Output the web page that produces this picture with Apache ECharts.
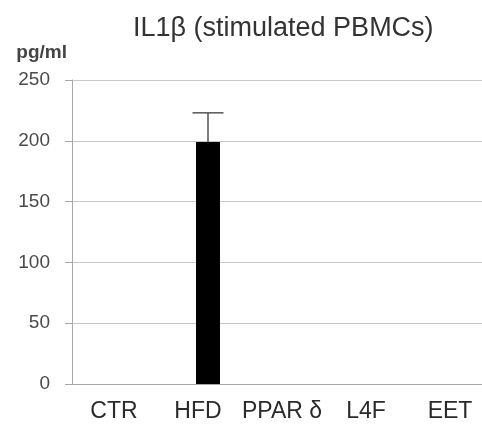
<!DOCTYPE html>
<html>
<head>
<meta charset="utf-8">
<script src="https://cdn.jsdelivr.net/npm/echarts@6/dist/echarts.min.js"></script>
<style>
  html, body { margin: 0; padding: 0; background: #fff; }
  #main { width: 482px; height: 429px; }
</style>
</head>
<body>
<div id="main"></div>
<script>
const categories = ['CTR', 'HFD', 'PPAR \u03b4', 'L4F', 'EET'];
const means = [0, 199, 0, 0, 0];
const errorTops = [0, 223, 0, 0, 0];
const yTicks = [0, 50, 100, 150, 200, 250];

// the bar sits a bit right of its label in the original
const barShift = 10;
const barWidth = 24;
const capWidth = 31;

const chart = echarts.init(document.getElementById('main'), null, { renderer: 'canvas' });

const option = {
  animation: false,
  textStyle: { fontFamily: 'Liberation Sans, Arial, sans-serif' },
  title: {
    text: 'IL1\u03b2 (stimulated PBMCs)',
    left: 128,
    top: 10,
    textStyle: { fontSize: 27, fontWeight: 'normal', color: '#333' }
  },
  grid: { left: 72, right: -10, top: 80, bottom: 45, outerBoundsMode: 'none' },
  xAxis: {
    type: 'category',
    data: categories,
    axisLine: { lineStyle: { color: '#a8a8a8', width: 1 } },
    axisTick: { show: false },
    axisLabel: { fontSize: 23, color: '#2a2a2a', margin: 16, interval: 0 }
  },
  yAxis: {
    type: 'value',
    min: yTicks[0],
    max: yTicks[yTicks.length - 1],
    interval: 50,
    name: 'pg/ml',
    nameLocation: 'end',
    nameGap: 18,
    nameTextStyle: { fontSize: 19, fontWeight: 'bold', color: '#444', align: 'right', padding: [0, 5, 0, 0] },
    axisLine: { show: true, lineStyle: { color: '#a8a8a8', width: 1 } },
    axisTick: { show: true, length: 7, lineStyle: { color: '#a8a8a8' } },
    axisLabel: { fontSize: 19, color: '#4a4a4a', margin: 22 },
    splitLine: { lineStyle: { color: '#c8c8c8', width: 1 } }
  },
  series: [{
    type: 'custom',
    data: means.map((m, i) => [i, m, errorTops[i]]),
    renderItem: function (params, api) {
      const i = api.value(0);
      const m = api.value(1);
      if (!m) return null;
      const base = api.coord([i, 0]);
      const top = api.coord([i, m]);
      const err = api.coord([i, api.value(2)]);
      const cx = base[0] + barShift;
      return {
        type: 'group',
        children: [
          {
            type: 'line',
            shape: { x1: cx, y1: top[1], x2: cx, y2: err[1] },
            style: { stroke: '#555', lineWidth: 1.5 }
          },
          {
            type: 'line',
            shape: { x1: cx - capWidth / 2, y1: err[1], x2: cx + capWidth / 2, y2: err[1] },
            style: { stroke: '#555', lineWidth: 1.5 }
          },
          {
            type: 'rect',
            shape: { x: cx - barWidth / 2, y: top[1], width: barWidth, height: base[1] - top[1] },
            style: { fill: '#000' }
          }
        ]
      };
    }
  }]
};

chart.setOption(option);
</script>
</body>
</html>
